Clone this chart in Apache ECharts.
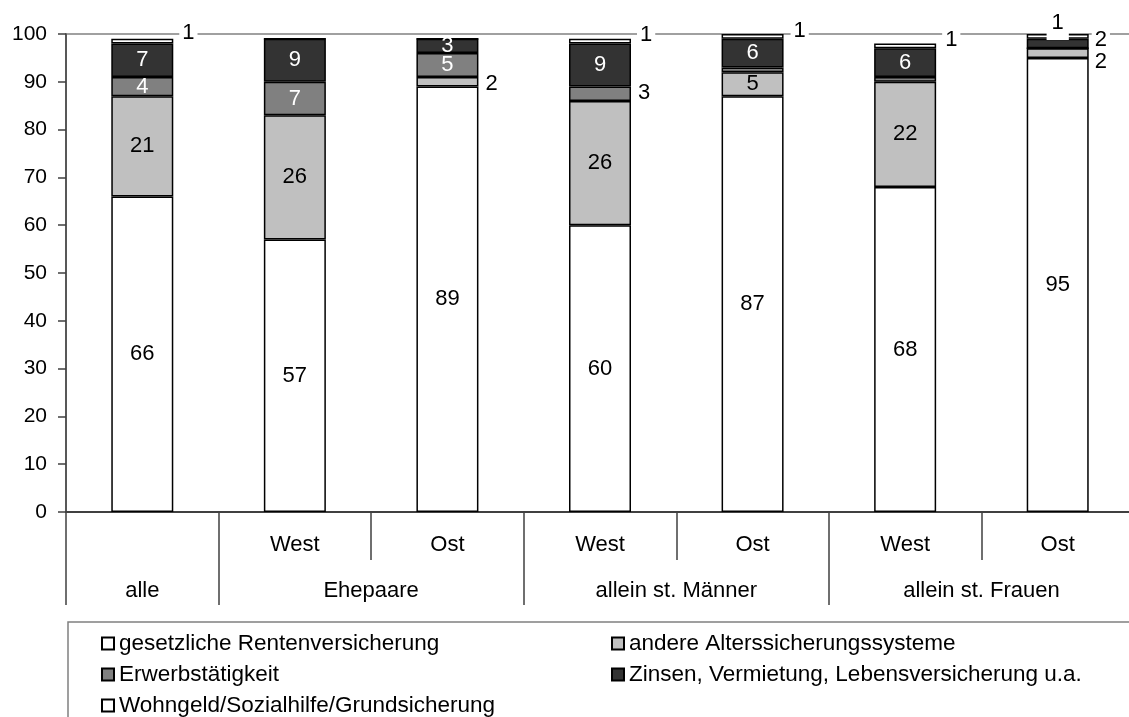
<!DOCTYPE html>
<html>
<head>
<meta charset="utf-8">
<script src="https://cdn.jsdelivr.net/npm/echarts@6/dist/echarts.min.js"></script>
<style>
html,body{margin:0;padding:0;background:#fff;}
#chart{width:1129px;height:717px;}
</style>
</head>
<body>
<div id="chart"></div>
<script>
// ---- data ----
var categories = ['alle', 'West', 'Ost', 'West', 'Ost', 'West', 'Ost'];
var groupLabels = ['alle', 'Ehepaare', 'allein st. Männer', 'allein st. Frauen'];
var groupCenters = [0.5, 2, 4, 6];
var groupBounds = [0, 1, 3, 5, 7];
var seriesNames = [
  'gesetzliche Rentenversicherung',
  'andere Alterssicherungssysteme',
  'Erwerbstätigkeit',
  'Zinsen, Vermietung, Lebensversicherung u.a.',
  'Wohngeld/Sozialhilfe/Grundsicherung'
];
var gesetzlich = [66, 57, 89, 60, 87, 68, 95];
var andere     = [21, 26, 2, 26, 5, 22, 2];
var erwerb     = [4, 7, 5, 3, 1, 1, 0];
var zinsen     = [7, 9, 3, 9, 6, 6, 2];
var wohngeld   = [1, 0, 0, 1, 1, 1, 1];
var yTicks = [0, 10, 20, 30, 40, 50, 60, 70, 80, 90, 100];

// ---- styles ----
var colors = ['#ffffff', '#c0c0c0', '#808080', '#333333', '#ffffff'];
var labelColors = ['#000', '#000', '#fff', '#fff', '#000'];
var FS = 22;
// label placement per series index -> category index
var outside = {
  1: { 2: {pos: 'right', dist: 4, dy: 2}, 6: {pos: 'right', dist: 3, dy: 9} },
  2: { 3: {pos: 'right', dist: 4, dy: -1} },
  3: { 6: {pos: 'right', dist: 3, dy: -4} },
  4: { 0: {pos: 'right', dist: 6, dy: -8}, 3: {pos: 'right', dist: 6, dy: -6},
       4: {pos: 'right', dist: 7, dy: -5}, 5: {pos: 'right', dist: 6, dy: -6},
       6: {pos: 'top', dist: -6, dy: 0, box: true} }
};
var hideInside = { 2: {4: 1, 5: 1, 6: 1} };
// legend slots: [left, top] for each series
var legendSlots = [[101, 632], [611, 632], [101, 663], [611, 663], [101, 694]];

function buildData(values, si) {
  return values.map(function (v, ci) {
    var o = outside[si] && outside[si][ci];
    var item = { value: v };
    if (o) {
      item.label = {
        show: true, position: o.pos, distance: o.dist, offset: [0, o.dy],
        color: '#000', backgroundColor: '#fff',
        padding: o.box ? [1, 5, 6, 5] : [0, 3, 0, 3]
      };
    } else if (v >= 3 && !(hideInside[si] && hideInside[si][ci])) {
      item.label = { show: true, position: 'inside', color: labelColors[si] };
    } else {
      item.label = { show: false };
    }
    return item;
  });
}

var allValues = [gesetzlich, andere, erwerb, zinsen, wohngeld];
var series = allValues.map(function (vals, si) {
  return {
    name: seriesNames[si],
    type: 'bar',
    stack: 'total',
    barWidth: 62,
    xAxisIndex: 0,
    data: buildData(vals, si),
    itemStyle: { color: colors[si], borderColor: '#000', borderWidth: 1.5 },
    label: { fontSize: FS, fontFamily: 'Liberation Sans, Arial, sans-serif', formatter: '{c}' },
    emphasis: { disabled: true },
    animation: false
  };
});

var legends = seriesNames.map(function (n, si) {
  return {
    data: [n], orient: 'horizontal', left: legendSlots[si][0], top: legendSlots[si][1],
    padding: 0, itemWidth: 12, itemHeight: 12, icon: 'rect',
    textStyle: { fontSize: 22.5, color: '#000', lineHeight: 23 },
    selectedMode: false
  };
});

var chart = echarts.init(document.getElementById('chart'));
chart.setOption({
  animation: false,
  textStyle: { fontFamily: 'Liberation Sans, Arial, sans-serif' },
  grid: { left: 66, top: 34, right: -5, bottom: 205, show: true, outerBoundsMode: 'none',
          containLabel: false,
          borderColor: '#a0a0a0', borderWidth: 2, backgroundColor: 'transparent' },
  xAxis: [
    {
      type: 'category', data: categories, position: 'bottom',
      axisLine: { lineStyle: { color: '#404040', width: 2 } },
      axisTick: { show: true, length: 48, lineStyle: { color: '#404040', width: 1.5 } },
      axisLabel: { color: '#000', fontSize: FS, margin: 22,
                   formatter: function (v, i) { return i === 0 ? '' : v; } },
      splitLine: { show: false }
    },
    {
      type: 'value', min: 0, max: 7, position: 'bottom', offset: 48,
      axisLine: { show: false },
      axisTick: { show: true, length: 45, customValues: groupBounds,
                  lineStyle: { color: '#404040', width: 1.5 } },
      axisLabel: { color: '#000', fontSize: FS, margin: 20, customValues: groupCenters,
                   formatter: function (v) {
                     var k = groupCenters.indexOf(v);
                     return k >= 0 ? groupLabels[k] : '';
                   } },
      splitLine: { show: false }
    }
  ],
  yAxis: {
    type: 'value', min: yTicks[0], max: yTicks[yTicks.length - 1], interval: 10,
    axisLine: { show: true, lineStyle: { color: '#404040', width: 1.5 } },
    axisTick: { show: true, length: 8, lineStyle: { color: '#404040', width: 1.5 } },
    axisLabel: { color: '#000', fontSize: 21, margin: 19 },
    splitLine: { show: false }
  },
  legend: legends,
  graphic: [
    { type: 'rect', shape: { x: 68, y: 622, width: 1100, height: 130 },
      style: { fill: 'none', stroke: '#808080', lineWidth: 1.5 }, silent: true }
  ],
  series: series
});
</script>
</body>
</html>
